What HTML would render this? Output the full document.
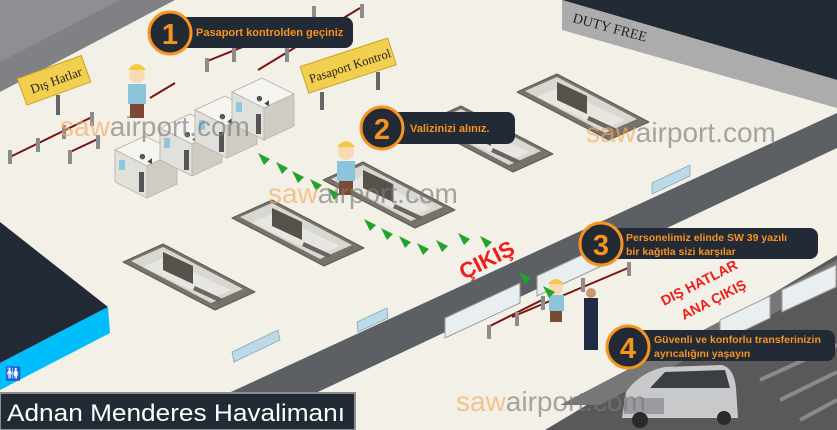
<!DOCTYPE html>
<html><head><meta charset="utf-8"><style>
html,body{margin:0;padding:0;background:#f3f1e7;}
svg{display:block;}
text{font-family:"Liberation Sans",sans-serif;}
text.serif{font-family:"Liberation Serif",serif;}
</style></head><body>
<svg width="837" height="430" viewBox="0 0 837 430" xmlns="http://www.w3.org/2000/svg">
<defs>
<g id="car">
 <polygon points="0,0 40,-18 132,30 92,48" fill="#77736c" stroke="#5e5a54" stroke-width="1" stroke-linejoin="round"/>
 <polygon points="8,-1 40,-15 120,27 88,41" fill="#d9d7d1"/>
 <polygon points="20,5 40,-4 108,28 88,37" fill="#e8e6e0"/>
 <polygon points="40,-10 70,4 70,22 40,8" fill="#55524c"/>
 <polygon points="72,24 100,37 96,40 70,28" fill="#6b6760"/>
</g>
<g id="arr"><polygon points="0,0 12,6 6,12" fill="#22a32a"/></g>
<g id="booth">
 <polygon points="0,10 30,-4 62,12 32,26" fill="#f5f4f0" stroke="#bdbab2"/>
 <polygon points="0,10 32,26 32,58 0,42" fill="#e2e0da" stroke="#bdbab2"/>
 <polygon points="32,26 62,12 62,44 32,58" fill="#cfccc4" stroke="#bdbab2"/>
 <rect x="4" y="20" width="6" height="10" fill="#8fc7e0"/>
 <rect x="24" y="32" width="5" height="20" fill="#555"/>
 <text x="22" y="17" font-size="9" fill="#444" transform="rotate(25 22 17)">☻▲</text>
</g>
</defs>

<rect width="837" height="430" fill="#f3f1e7"/>
<polygon points="0,0 175,0 0,92" fill="#7f8184"/>
<polygon points="0,0 120,0 0,62" fill="#8d8f92"/>
<polygon points="562,0 837,0 837,80" fill="#222a35"/>
<polygon points="562,0 837,80 837,108 562,30" fill="#abacab"/>
<text class="serif" x="572" y="22" font-size="14" fill="#222" transform="rotate(15 572 22)">DUTY FREE</text>

<polygon points="220,397 837,113 837,148 237,430 220,430" fill="#5c6064"/>
<g fill="#e9eef0" stroke="#9a9a9a">
 <polygon points="445,318 520,283 520,303 445,338" />
 <polygon points="537,276 610,242 610,262 537,296"/>
</g>
<polygon points="545,430 837,255 837,430" fill="#595959"/>
<polygon points="560,405 837,260 837,280 600,405" fill="#777"/>
<g fill="#e9eef0" stroke="#a0a0a0">
 <polygon points="720,320 770,296 770,318 720,342"/>
 <polygon points="782,290 836,265 836,287 782,312"/>
</g>
<g stroke="#8a8a8a" stroke-width="4">
 <line x1="760" y1="380" x2="837" y2="345"/>
 <line x1="780" y1="400" x2="837" y2="372"/>
 <line x1="800" y1="420" x2="837" y2="400"/>
</g>

<polygon points="0,222 108,307 0,363" fill="#222a35"/>
<polygon points="0,363 108,307 110,333 0,390" fill="#00bdfc"/>
<text x="5" y="378" font-size="13" fill="#111">🚻</text>

<g fill="#bcd9ea" stroke="#8aa" stroke-width="0.8">
 <polygon points="232,352 278,330 280,340 234,362"/>
 <polygon points="357,322 387,308 388,318 358,332"/>
 <polygon points="652,183 690,165 690,176 652,194"/>
 <polygon points="10,424 40,410 40,420 10,430"/>
</g>

<use href="#car" x="123" y="262"/>
<use href="#car" x="232" y="218"/>
<use href="#car" x="323" y="180"/>
<use href="#car" x="421" y="124"/>
<use href="#car" x="517" y="92"/>

<g stroke="#7a1414" stroke-width="2">
 <line x1="10" y1="157" x2="92" y2="117"/>
 <line x1="70" y1="152" x2="100" y2="138"/>
 <line x1="150" y1="98" x2="175" y2="83"/>
 <line x1="205" y1="62" x2="290" y2="28"/>
 <line x1="258" y1="70" x2="360" y2="8"/>
 <line x1="488" y1="327" x2="542" y2="300"/>
 <line x1="512" y1="317" x2="628" y2="268"/>
</g>
<g fill="#8c8c8c">
 <rect x="8" y="150" width="4" height="14"/><rect x="36" y="138" width="4" height="14"/>
 <rect x="62" y="125" width="4" height="14"/><rect x="90" y="112" width="4" height="14"/>
 <rect x="68" y="150" width="4" height="14"/><rect x="96" y="135" width="4" height="14"/>
 <rect x="205" y="58" width="4" height="14"/><rect x="232" y="48" width="4" height="14"/>
 <rect x="285" y="48" width="4" height="14"/><rect x="312" y="6" width="4" height="14"/>
 <rect x="360" y="4" width="4" height="14"/>
 <rect x="487" y="325" width="4" height="14"/><rect x="515" y="312" width="4" height="14"/>
 <rect x="541" y="296" width="4" height="14"/><rect x="581" y="278" width="4" height="14"/>
 <rect x="627" y="262" width="4" height="14"/>
</g>

<use href="#booth" x="115" y="140"/>
<use href="#booth" x="160" y="118"/>
<use href="#booth" x="195" y="100"/>
<use href="#booth" x="232" y="82"/>

<g transform="rotate(-20 55 80)">
 <rect x="20" y="66" width="68" height="28" fill="#f3cf4f" stroke="#c9a226"/>
 <text class="serif" x="29" y="85" font-size="13" fill="#222">Dış Hatlar</text>
</g>
<rect x="56" y="95" width="4" height="20" fill="#666"/>
<g transform="rotate(-18 347 65)">
 <rect x="302" y="52" width="92" height="28" fill="#f3cf4f" stroke="#c9a226"/>
 <text class="serif" x="307" y="71" font-size="12.5" fill="#222">Pasaport Kontrol</text>
</g>
<rect x="320" y="92" width="4" height="18" fill="#666"/><rect x="376" y="72" width="4" height="18" fill="#666"/>

<g>
 <circle cx="137" cy="75" r="8" fill="#f7d9b2"/><path d="M128,70 q9,-12 18,0" fill="#f5c843"/>
 <rect x="128" y="84" width="18" height="20" fill="#8cc4dc"/><rect x="130" y="104" width="14" height="14" fill="#7a4a33"/>
 <circle cx="346" cy="152" r="8" fill="#f7d9b2"/><path d="M337,147 q9,-12 18,0" fill="#f5c843"/>
 <rect x="337" y="161" width="18" height="20" fill="#8cc4dc"/><rect x="339" y="181" width="14" height="14" fill="#7a4a33"/>
 <circle cx="556" cy="288" r="7" fill="#f7d9b2"/><path d="M548,284 q8,-10 16,0" fill="#f5c843"/>
 <rect x="549" y="295" width="15" height="16" fill="#8cc4dc"/><rect x="550" y="311" width="12" height="11" fill="#7a4a33"/>
 <circle cx="591" cy="293" r="5" fill="#c89a72"/>
 <rect x="584" y="298" width="14" height="52" fill="#1f2a44"/>
</g>

<use href="#arr" x="258" y="153"/><use href="#arr" x="276" y="162"/><use href="#arr" x="292" y="171"/>
<use href="#arr" x="310" y="179"/><use href="#arr" x="328" y="188"/><use href="#arr" x="364" y="219"/>
<use href="#arr" x="381" y="228"/><use href="#arr" x="399" y="236"/><use href="#arr" x="417" y="243"/>
<use href="#arr" x="436" y="240"/><use href="#arr" x="458" y="233"/><use href="#arr" x="480" y="236"/>
<use href="#arr" x="519" y="272"/><use href="#arr" x="543" y="286"/>

<text x="464" y="280" font-size="22" font-weight="bold" fill="#f01c1c" transform="rotate(-27 464 280)">ÇIKIŞ</text>
<text x="664" y="306" font-size="14" font-weight="bold" fill="#f01c1c" transform="rotate(-27 664 306)">DIŞ HATLAR</text>
<text x="684" y="320" font-size="14" font-weight="bold" fill="#f01c1c" transform="rotate(-27 684 320)">ANA ÇIKIŞ</text>

<g>
 <path d="M622,418 L626,392 Q640,372 665,367 L722,365 Q734,368 736,388 L738,418 Z" fill="#c8c9cb"/>
 <path d="M650,388 L665,372 L725,370 L730,388 Z" fill="#3b3f44"/>
 <rect x="624" y="398" width="40" height="16" fill="#9a9c9f"/>
 <circle cx="640" cy="420" r="8" fill="#2a2a2a"/><circle cx="724" cy="418" r="7" fill="#2a2a2a"/>
</g>

<g font-size="28" opacity="0.65">
 <text x="60" y="136"><tspan fill="#f5a95a">saw</tspan><tspan fill="#7a7a7a">airport.com</tspan></text>
 <text x="268" y="203"><tspan fill="#f5a95a">saw</tspan><tspan fill="#7a7a7a">airport.com</tspan></text>
 <text x="586" y="142"><tspan fill="#f5a95a">saw</tspan><tspan fill="#7a7a7a">airport.com</tspan></text>
 <text x="456" y="411"><tspan fill="#f5a95a">saw</tspan><tspan fill="#7a7a7a">airport.com</tspan></text>
</g>

<g font-weight="bold">
 <rect x="180" y="17" width="173" height="31" rx="8" fill="#222a35"/>
 <circle cx="170" cy="33" r="21" fill="#222a35" stroke="#f7941d" stroke-width="3"/>
 <text x="170" y="44" font-size="29" fill="#f7941d" text-anchor="middle">1</text>
 <text x="196" y="36" font-size="11" fill="#f7941d">Pasaport kontrolden geçiniz</text>

 <rect x="390" y="112" width="125" height="32" rx="8" fill="#222a35"/>
 <circle cx="382" cy="128" r="21" fill="#222a35" stroke="#f7941d" stroke-width="3"/>
 <text x="382" y="139" font-size="29" fill="#f7941d" text-anchor="middle">2</text>
 <text x="410" y="132" font-size="11" fill="#f7941d">Valizinizi alınız.</text>

 <rect x="610" y="228" width="208" height="31" rx="8" fill="#222a35"/>
 <circle cx="601" cy="244" r="21" fill="#222a35" stroke="#f7941d" stroke-width="3"/>
 <text x="601" y="255" font-size="29" fill="#f7941d" text-anchor="middle">3</text>
 <text x="626" y="241" font-size="10.5" fill="#f7941d">Personelimiz elinde SW 39 yazılı</text>
 <text x="626" y="255" font-size="10.5" fill="#f7941d">bir kağıtla sizi karşılar</text>

 <rect x="636" y="330" width="199" height="31" rx="8" fill="#222a35"/>
 <circle cx="628" cy="347" r="21" fill="#222a35" stroke="#f7941d" stroke-width="3"/>
 <text x="628" y="358" font-size="29" fill="#f7941d" text-anchor="middle">4</text>
 <text x="654" y="343" font-size="10.5" fill="#f7941d">Güvenli ve konforlu transferinizin</text>
 <text x="654" y="357" font-size="10.5" fill="#f7941d">ayrıcalığını yaşayın</text>
</g>

<rect x="0" y="393" width="355" height="37" fill="#222a35" stroke="#8a8d92" stroke-width="2"/>
<text x="7" y="421" font-size="24" fill="#ffffff" textLength="338" lengthAdjust="spacingAndGlyphs">Adnan Menderes Havalimanı</text>
</svg>
</body></html>
